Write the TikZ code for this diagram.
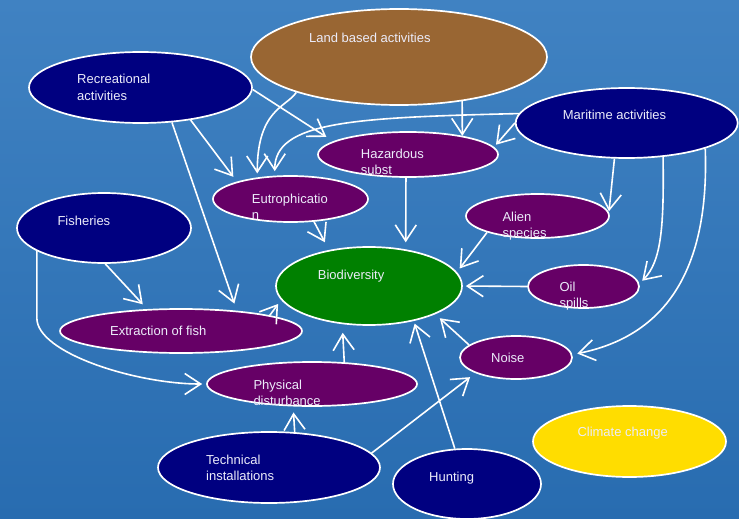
\documentclass[tikz,border=0pt]{standalone}
\usepackage{fontspec}
\setmainfont{Liberation Sans}
\usetikzlibrary{shapes.geometric,arrows.meta}
\definecolor{bgtop}{RGB}{64,130,194}
\definecolor{bgbot}{RGB}{40,108,176}
\definecolor{navyfill}{RGB}{0,0,128}
\definecolor{brownfill}{RGB}{153,102,51}
\definecolor{plumfill}{RGB}{102,0,102}
\definecolor{leaffill}{RGB}{0,128,0}
\definecolor{sunfill}{RGB}{255,221,0}
\definecolor{txtcol}{RGB}{236,236,250}
\begin{document}
\begin{tikzpicture}[x=1pt,y=-1pt,
 blob/.style={ellipse, draw=white, line width=1.7pt, inner sep=0pt},
 lbl/.style={anchor=base west, inner sep=0pt, text=txtcol, font=\fontsize{13}{16}\selectfont},
 conn/.style={draw=white, line width=1.6pt, -{Straight Barb[length=16pt,width=21pt]}},
]
\useasboundingbox (0,0) rectangle (739,519);
\fill[top color=bgtop, bottom color=bgbot] (0,0) rectangle (739,519);

% ellipses
\node[blob, fill=brownfill, minimum width=296pt, minimum height=96pt] (land) at (399,57) {};
\node[blob, fill=navyfill, minimum width=223pt, minimum height=71pt] (rec) at (140.5,87.5) {};
\node[blob, fill=navyfill, minimum width=222pt, minimum height=70pt] (mar) at (626.7,123) {};
\node[blob, fill=plumfill, minimum width=180pt, minimum height=45pt] (hz) at (408,154.5) {};
\node[blob, fill=plumfill, minimum width=155pt, minimum height=46pt] (eu) at (290.5,199) {};
\node[blob, fill=navyfill, minimum width=174pt, minimum height=70pt] (fish) at (104,228) {};
\node[blob, fill=plumfill, minimum width=143pt, minimum height=44pt] (alien) at (537.5,216) {};
\node[blob, fill=leaffill, minimum width=186pt, minimum height=78pt] (bio) at (369,286) {};
\node[blob, fill=plumfill, minimum width=111pt, minimum height=43pt] (oil) at (583.5,286.5) {};
\node[blob, fill=plumfill, minimum width=242pt, minimum height=44pt] (ext) at (181,331) {};
\node[blob, fill=plumfill, minimum width=112pt, minimum height=43pt] (noise) at (516,357.5) {};
\node[blob, fill=plumfill, minimum width=210pt, minimum height=44pt] (phys) at (312,384) {};
\node[blob, fill=navyfill, minimum width=222pt, minimum height=71pt] (tech) at (269,467.5) {};
\node[blob, fill=navyfill, minimum width=148pt, minimum height=70pt] (hunt) at (467,484) {};
\node[blob, fill=sunfill, minimum width=193pt, minimum height=71pt] (clim) at (629.5,441.5) {};

% connectors
\draw[conn] (land.-35.6) -- (hz.19.5);
\draw[conn, shorten >=4pt] (land.199) .. controls +(-10,15) and +(0,-68) .. (eu.147);
\draw[conn, shorten >=8pt] (rec.-1) -- (hz.170);
\draw[conn, shorten >=6pt] (rec.-33.3) -- (eu.162);
\draw[conn, shorten >=7.5pt] (rec.-48.5) -- (ext.20);
\draw[conn, shorten >=4.5pt] (mar.175.3) .. controls +(-167,4) and +(0,-54) .. (eu.124.6);
\draw[conn, shorten >=3pt] (mar.180) -- (hz.5);
\draw[conn, shorten >=1pt] (mar.251.4) -- (alien.3);
\draw[conn, shorten >=4pt] (mar.-43.1) .. controls +(1,70) and +(22,-22) .. (oil.3);
\draw[conn, shorten >=5pt] (mar.-18.8) .. controls +(4,112) and +(100,-20) .. (noise.3);
\draw[conn, shorten >=6.5pt] (fish.-88.4) -- (ext.147.8);
\draw[conn, shorten >=4pt] (fish.199) -- ++(0,67) .. controls +(0,35) and +(-70,0) .. (phys.180);
\draw[conn, shorten >=5pt] (ext.10) -- (bio.189);
\draw[conn, shorten >=8.7pt] (eu.-44.4) -- (bio.138.6);
\draw[conn, shorten >=7pt] (hz.-95) -- (bio.45);
\draw[conn, shorten >=4.5pt] (alien.198.6) -- (bio.9.6);
\draw[conn, shorten >=3pt] (oil.180) -- (bio.0);
\draw[conn, shorten >=6pt] (noise.165.3) -- (bio.-23.5);
\draw[conn, shorten >=2.7pt] (hunt.109.4) -- (bio.-38.7);
\draw[conn, shorten >=8.6pt] (phys.34.1) -- (bio.235.2);
\draw[conn, shorten >=6pt] (tech.54.2) -- (phys.230.3);
\draw[conn, shorten >=6.6pt] (tech.8) -- (noise.201.9);

% labels
\node[lbl] (landt) at (309,43) {Land based activities};
\node[lbl] (rect1) at (77,84) {Recreational};
\node[lbl] (rect2) at (77,100) {activities};
\node[lbl] (mart) at (562.7,119) {Maritime activities};
\node[lbl] (hzt1) at (360.7,158.3) {Hazardous};
\node[lbl] (hzt2) at (360.7,174.3) {subst};
\node[lbl] (eut1) at (251.7,203.3) {Eutrophicatio};
\node[lbl] (eut2) at (251.7,219.3) {n};
\node[lbl] (fisht) at (57.3,225) {Fisheries};
\node[lbl] (alient1) at (502.3,221) {Alien};
\node[lbl] (alient2) at (502.3,237) {species};
\node[lbl] (biot) at (317.7,279.3) {Biodiversity};
\node[lbl] (oilt1) at (559.3,291.7) {Oil};
\node[lbl] (oilt2) at (559.3,307.7) {spills};
\node[lbl] (extt) at (110,335.7) {Extraction of fish};
\node[lbl] (noiset) at (491,362.7) {Noise};
\node[lbl] (physt1) at (253.3,389.3) {Physical};
\node[lbl] (physt2) at (253.3,405.3) {disturbance};
\node[lbl] (techt1) at (206,464) {Technical};
\node[lbl] (techt2) at (206,480) {installations};
\node[lbl] (huntt) at (429,481) {Hunting};
\node[lbl] (climt) at (577.3,436.7) {Climate change};
\end{tikzpicture}
\end{document}
